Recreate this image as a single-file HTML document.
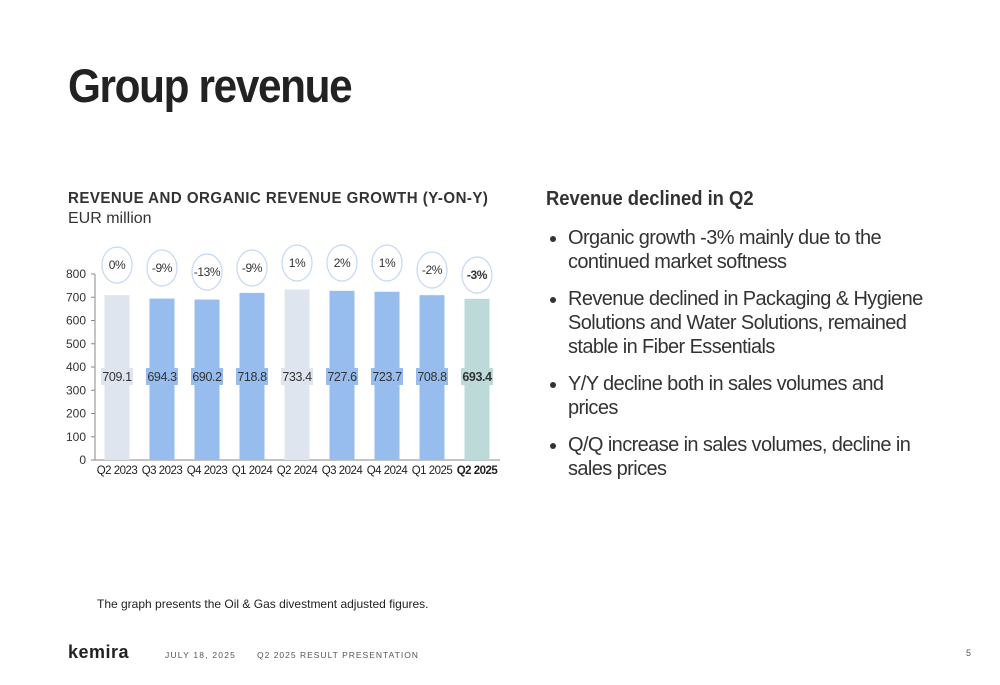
<!DOCTYPE html>
<html><head><meta charset="utf-8"><style>
body{margin:0;width:1000px;height:685px;background:#fff;font-family:"Liberation Sans",sans-serif;position:relative;overflow:hidden;color:#222}
.a{position:absolute}
li{white-space:nowrap}
</style></head><body>
<div class="a" style="left:68px;top:58px;font-size:47px;font-weight:bold;letter-spacing:-1.5px;color:#222;transform:scaleX(0.9);transform-origin:left">Group revenue</div>
<div class="a" style="left:68px;top:190px;font-size:15.5px;font-weight:bold;letter-spacing:0.5px;color:#333;transform:scaleX(0.97);transform-origin:left">REVENUE AND ORGANIC REVENUE GROWTH (Y-ON-Y)</div>
<div class="a" style="left:68px;top:210px;font-size:16px;color:#333">EUR million</div>
<svg class="a" style="left:0;top:0" width="1000" height="685">
<g id="g"></g></svg>
<div class="a" style="left:546px;top:188px;font-size:20px;font-weight:bold;color:#333;transform:scaleX(0.92);transform-origin:left">Revenue declined in Q2</div>
<ul class="a" style="left:528px;top:226px;width:380px;margin:0;padding-left:40px;font-size:20px;line-height:24px;color:#333;letter-spacing:-0.6px">
<li style="margin-bottom:13px">Organic growth -3% mainly due to the<br>continued market softness</li>
<li style="margin-bottom:13px">Revenue declined in Packaging &amp; Hygiene<br>Solutions and Water Solutions, remained<br>stable in Fiber Essentials</li>
<li style="margin-bottom:13px">Y/Y decline both in sales volumes and<br>prices</li>
<li>Q/Q increase in sales volumes, decline in<br>sales prices</li>
</ul>
<div class="a" style="left:97px;top:597px;font-size:12px;color:#222">The graph presents the Oil &amp; Gas divestment adjusted figures.</div>
<div class="a" style="left:68px;top:642px;font-size:18px;font-weight:bold;letter-spacing:0.5px;color:#222">kemira</div>
<div class="a" style="left:165px;top:650px;font-size:8.5px;letter-spacing:1.2px;color:#555">JULY 18, 2025</div>
<div class="a" style="left:257px;top:650px;font-size:8.5px;letter-spacing:1px;color:#555">Q2 2025 RESULT PRESENTATION</div>
<div class="a" style="left:966px;top:648px;font-size:9px;color:#555">5</div>
<script>
const categories=["Q2 2023","Q3 2023","Q4 2023","Q1 2024","Q2 2024","Q3 2024","Q4 2024","Q1 2025","Q2 2025"];
const revenue=[709.1,694.3,690.2,718.8,733.4,727.6,723.7,708.8,693.4];
const growth=["0%","-9%","-13%","-9%","1%","2%","1%","-2%","-3%"];
const growthY=[265,268,272,268,263,263,263,270,275];
const yTicks=[0,100,200,300,400,500,600,700,800];
const g=document.getElementById('g');const NS="http://www.w3.org/2000/svg";
const y=v=>460-v*186/800, x=i=>117+i*45;
function mk(t,a,txt){const e=document.createElementNS(NS,t);for(const k in a)e.setAttribute(k,a[k]);if(txt!=null)e.textContent=txt;g.appendChild(e);return e;}
yTicks.forEach(t=>{const e=mk('text',{x:86,y:y(t)+4,'text-anchor':'end','font-size':12,fill:'#333'},t);


mk('line',{x1:91,x2:95,y1:y(t),y2:y(t),stroke:'#888'});});
mk('line',{x1:95,x2:95,y1:y(800),y2:460,stroke:'#888'});
mk('line',{x1:95,x2:500,y1:460,y2:460,stroke:'#888'});
categories.forEach((c,i)=>{
const col=(i==0||i==4)?'#dfe5ef':(i==8?'#bcdad8':'#96bdee');
const b=mk('rect',{x:x(i)-12.5,y:y(revenue[i]),width:25,height:460-y(revenue[i]),fill:col});


mk('rect',{x:x(i)-16,y:368,width:32,height:17,fill:col});
const v=mk('text',{x:x(i),y:381,'text-anchor':'middle','font-size':12.5,'letter-spacing':-0.4,fill:'#333','font-weight':i==8?'bold':'normal'},revenue[i].toFixed(1));


const l=mk('text',{x:x(i),y:474,'text-anchor':'middle','font-size':11.5,'letter-spacing':-0.5,fill:'#222','font-weight':i==8?'bold':'normal'},c);


const el=mk('ellipse',{cx:x(i),cy:growthY[i],rx:15,ry:18,fill:'#fff',stroke:'#c5d8f3','stroke-width':1.2});


const gt=mk('text',{x:x(i),y:growthY[i]+4,'text-anchor':'middle','font-size':12,'letter-spacing':-0.4,fill:'#333','font-weight':i==8?'bold':'normal'},growth[i]);


});
</script>
</body></html>
